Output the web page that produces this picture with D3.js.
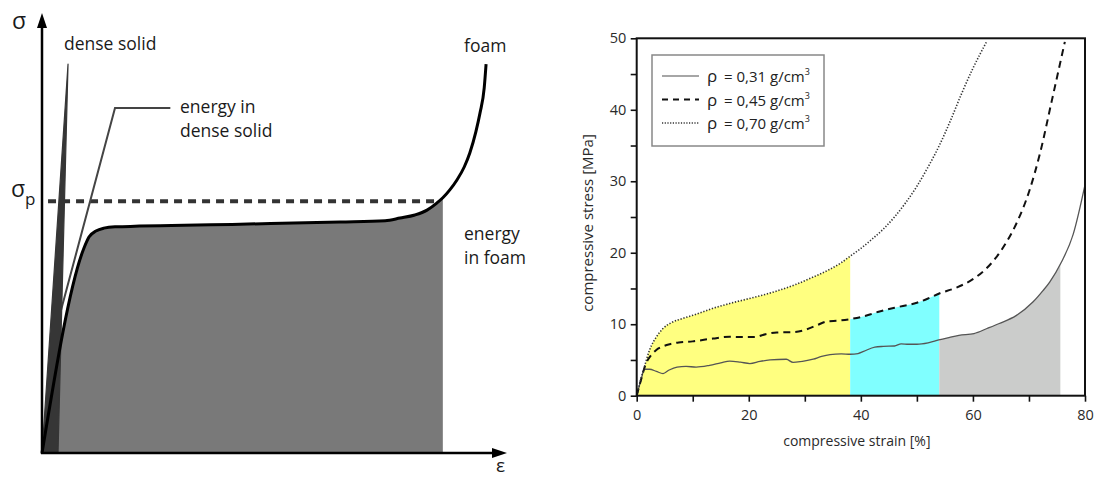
<!DOCTYPE html>
<html><head><meta charset="utf-8">
<script src="https://cdn.jsdelivr.net/npm/d3@7"></script>
<style>
body{margin:0;background:#fff}
svg{display:block}
text{font-family:"Open Sans",sans-serif}
</style>
</head><body>
<svg id="c" width="1094" height="480"></svg>
<script>
// ===== Right chart data =====
const strainTicks = [0, 10, 20, 30, 40, 50, 60, 70, 80];
const strainLabels = [0, 20, 40, 60, 80];
const stressTicks = [0, 5, 10, 15, 20, 25, 30, 35, 40, 45, 50];
const stressLabels = [0, 10, 20, 30, 40, 50];

const series031 = [[0,0],[0.7,2.0],[1.4,3.7],[2.3,3.7],[3.5,3.4],[4.7,3.1],[5.8,3.6],[7.2,4.0],[8.8,4.1],[10.6,4.0],[13,4.25],[15,4.6],[16.6,4.85],[18.5,4.7],[20.2,4.5],[22,4.8],[23.8,5.0],[26.7,5.1],[27.9,4.65],[29.5,4.8],[31.5,5.1],[33,5.5],[34.5,5.75],[36.5,5.85],[38.1,5.8],[39.5,5.9],[40.5,6.2],[42.5,6.8],[44,6.9],[46,6.95],[47.2,7.25],[48.5,7.2],[50,7.2],[52,7.4],[53.9,7.8],[55.5,8.1],[57.5,8.45],[60.2,8.7],[62.5,9.4],[64.7,10.1],[67.7,11.2],[70.7,13.1],[72.5,14.7],[73.7,15.9],[75.8,18.7],[77.9,22.6],[80,29.5]];
const series045 = [[0,0],[0.8,2.3],[1.6,4.4],[2.5,5.6],[3.5,6.4],[4.7,6.9],[5.9,7.2],[7.5,7.45],[10,7.6],[13.6,8.0],[16.6,8.25],[19,8.2],[21,8.2],[23,8.6],[25,8.85],[28,8.9],[30,9.2],[32,9.8],[34,10.4],[36,10.5],[38,10.7],[40,11.0],[43,11.7],[46,12.3],[50,13.0],[52,13.6],[54,14.3],[57,15.1],[60,16.3],[62,17.5],[64,19.2],[66,21.5],[68,24.5],[70,28.5],[72,34],[74,41],[76.4,49.5]];
const series070 = [[0,0],[0.7,2.2],[1.4,4.1],[2.3,6.4],[3.5,8.2],[4.7,9.4],[6.4,10.3],[8.2,10.8],[10.6,11.4],[13.5,12.2],[16.6,12.9],[19.6,13.5],[22.6,14.1],[25.6,14.8],[28.5,15.6],[31.5,16.6],[34.5,17.7],[36.5,18.6],[38.4,19.7],[40,20.6],[42,21.9],[44,23.3],[46,25.0],[48,27.0],[50,29.3],[52,32.0],[54,35.0],[56,38.5],[58,42.3],[60,45.8],[62.5,49.6]];
const densityLabels = ["0,31", "0,45", "0,70"];

const regionStart = [0, 38.1, 54.0];
const regionEnd = [38.1, 54.0, 75.6];
const regionSeries = [2, 1, 0];
const regionColors = ["#ffff80", "#80ffff", "#cbcccb"];

// ===== Left schematic data (abstract units 0-100) =====
const foamCurve = [[0,0],[9.03,46.6],[10.1,49.1],[11.6,50.45],[13.3,51.1],[15.7,51.4],[42.6,52.0],[64.1,52.5],[73.8,52.8],[77.0,53.4],[80.2,54.1],[82.8,55.2],[84.9,56.8],[86.2,58.0],[87.7,59.8],[89.2,62.0],[90.8,65.0],[92.0,68.2],[93.3,73.0],[94.2,77.3],[95.1,83.0],[95.5,88.4]];
const denseSolid = [[0,0],[3.44,0],[5.6,88.4]];
const plateauStress = [57.2];
const plateauRange = [1.3, 85.4];
const foamEnergyEnd = [86.2];
const leaderLine = [[27.6,78.4],[15.7,78.4],[4.1,32.5]];

const svg = d3.select("#c");

// ===================== LEFT PANEL =====================
const xL = d3.scaleLinear().domain([0, 100]).range([42, 507]);
const yL = d3.scaleLinear().domain([0, 100]).range([453, 13]);
const L = svg.append("g");

L.append("clipPath").attr("id", "foamClip").append("rect")
  .attr("x", xL(0)).attr("y", 0)
  .attr("width", xL(foamEnergyEnd[0]) - xL(0)).attr("height", yL(0));

L.append("path").datum(foamCurve)
  .attr("clip-path", "url(#foamClip)")
  .attr("fill", "#797979")
  .attr("d", d3.area().x(d => xL(d[0])).y0(yL(0)).y1(d => yL(d[1])).curve(d3.curveMonotoneX));

// sigma_p dashed line
L.append("line")
  .attr("x1", xL(plateauRange[0])).attr("x2", xL(plateauRange[1]))
  .attr("y1", yL(plateauStress[0])).attr("y2", yL(plateauStress[0]))
  .attr("stroke", "#333").attr("stroke-width", 4).attr("stroke-dasharray", "8,6");

// leader line
L.append("path").datum(leaderLine)
  .attr("fill", "none").attr("stroke", "#444").attr("stroke-width", 2)
  .attr("d", d3.line().x(d => xL(d[0])).y(d => yL(d[1])));

// dense solid wedge
const wedgeLine = d3.line().x(d => xL(d[0])).y(d => yL(d[1]));
L.append("path").datum(denseSolid)
  .attr("fill", "#363636").attr("stroke", "#363636").attr("stroke-width", 1.2)
  .attr("stroke-linejoin", "round")
  .attr("d", d => wedgeLine(d) + "Z");

// foam curve
L.append("path").datum(foamCurve)
  .attr("fill", "none").attr("stroke", "#000").attr("stroke-width", 3)
  .attr("d", d3.line().x(d => xL(d[0])).y(d => yL(d[1])).curve(d3.curveMonotoneX));

// axes with arrows
L.append("line").attr("x1", xL(0)).attr("x2", xL(0)).attr("y1", yL(0) + 1).attr("y2", yL(100) + 10)
  .attr("stroke", "#000").attr("stroke-width", 2.5);
L.append("line").attr("x1", xL(0) - 1).attr("x2", xL(100) - 10).attr("y1", yL(0)).attr("y2", yL(0))
  .attr("stroke", "#000").attr("stroke-width", 2.5);
L.append("path").attr("fill", "#000")
  .attr("d", `M${xL(0)},${yL(100)} L${xL(0) - 5},${yL(100) + 15} L${xL(0) + 5},${yL(100) + 15} Z`);
L.append("path").attr("fill", "#000")
  .attr("d", `M${xL(100)},${yL(0)} L${xL(100) - 15},${yL(0) - 5} L${xL(100) - 15},${yL(0) + 5} Z`);

// texts
const lt = (x, y, s, size) => L.append("text").attr("x", x).attr("y", y)
  .attr("font-size", size).attr("fill", "#1a1a1a").text(s);
lt(12, 29, "σ", 23);
lt(64, 50, "dense solid", 17.5);
lt(180, 113, "energy in", 17.5);
lt(180, 137, "dense solid", 17.5);
const sp = L.append("text").attr("x", 11).attr("y", 197).attr("font-size", 23).attr("fill", "#1a1a1a");
sp.append("tspan").text("σ");
sp.append("tspan").attr("font-size", 17).attr("dy", 8).text("p");
lt(464, 52, "foam", 17.5);
lt(464, 240, "energy", 17.5);
lt(464, 264, "in foam", 17.5);
lt(496, 472, "ε", 19);

// ===================== RIGHT PANEL =====================
const x = d3.scaleLinear().domain([0, 80]).range([636.7, 1085]);
const y = d3.scaleLinear().domain([0, 50]).range([395.7, 38.3]);
const R = svg.append("g");
const allSeries = [series031, series045, series070];

const area = d3.area().x(d => x(d[0])).y0(y(0)).y1(d => y(d[1])).curve(d3.curveMonotoneX);
regionStart.forEach((s, i) => {
  const id = "reg" + i;
  R.append("clipPath").attr("id", id).append("rect")
    .attr("x", x(s)).attr("y", y(50)).attr("width", x(regionEnd[i]) - x(s)).attr("height", y(0) - y(50));
  R.append("path").datum(allSeries[regionSeries[i]])
    .attr("clip-path", `url(#${id})`).attr("fill", regionColors[i]).attr("d", area);
});

const line = d3.line().x(d => x(d[0])).y(d => y(d[1])).curve(d3.curveMonotoneX);
const styles = [
  {stroke: "#555", width: 1.3, dash: null},
  {stroke: "#111", width: 2, dash: "7,5"},
  {stroke: "#333", width: 1.6, dash: "1.3,1.7"}
];
allSeries.forEach((s, i) => {
  R.append("path").datum(s).attr("fill", "none")
    .attr("stroke", styles[i].stroke).attr("stroke-width", styles[i].width)
    .attr("stroke-dasharray", styles[i].dash).attr("d", line);
});

// axes
const xAxis = d3.axisBottom(x).tickValues(strainTicks).tickSize(6).tickSizeOuter(0)
  .tickFormat(d => strainLabels.includes(d) ? d : "");
const yAxis = d3.axisLeft(y).tickValues(stressTicks).tickSize(6).tickSizeOuter(0)
  .tickFormat(d => stressLabels.includes(d) ? d : "");
const gx = R.append("g").attr("transform", `translate(0,${y(0)})`).call(xAxis);
const gy = R.append("g").attr("transform", `translate(${x(0)},0)`).call(yAxis);
[gx, gy].forEach(g => {
  g.select(".domain").remove();
  g.selectAll(".tick line").attr("stroke", "#111").attr("stroke-width", 1.6);
  g.selectAll(".tick text").attr("font-family", "'Open Sans',sans-serif").attr("font-size", 14.5).attr("fill", "#2a2a2a");
});
gx.selectAll(".tick text").attr("dy", "1.05em");
gy.selectAll(".tick text").attr("dx", "-0.1em");

R.append("rect").attr("x", x(0)).attr("y", y(50)).attr("width", x(80) - x(0)).attr("height", y(0) - y(50))
  .attr("fill", "none").attr("stroke", "#111").attr("stroke-width", 2);

R.append("text").attr("x", (x(0) + x(80)) / 2 - 4).attr("y", 446).attr("text-anchor", "middle")
  .attr("font-size", 14).attr("fill", "#2a2a2a").text("compressive strain [%]");
R.append("text").attr("transform", `translate(593,${(y(0) + y(50)) / 2 + 6}) rotate(-90)`).attr("text-anchor", "middle")
  .attr("font-size", 15).attr("fill", "#2a2a2a").text("compressive stress [MPa]");

// legend
const lg = R.append("g");
lg.append("rect").attr("x", 652).attr("y", 55).attr("width", 172).attr("height", 91)
  .attr("fill", "#fff").attr("stroke", "#888").attr("stroke-width", 1.5);
const legendDash = [null, "6,5", "1.2,1.5"];
const legendStroke = ["#888", "#111", "#333"];
const legendWidth = [1.3, 2, 1.4];
densityLabels.forEach((lab, i) => {
  const ly = 76 + i * 23.5;
  lg.append("line").attr("x1", 662).attr("x2", 699).attr("y1", ly).attr("y2", ly)
    .attr("stroke", legendStroke[i]).attr("stroke-width", legendWidth[i]).attr("stroke-dasharray", legendDash[i]);
  lg.append("text").attr("x", 707).attr("y", ly + 6).attr("font-size", 17).attr("fill", "#222").text("ρ");
  const t = lg.append("text").attr("x", 724).attr("y", ly + 6).attr("font-size", 15).attr("fill", "#222");
  t.append("tspan").text("= " + lab + " g/cm");
  t.append("tspan").attr("font-size", 9).attr("dy", -7).text("3");
});
</script>
</body></html>
